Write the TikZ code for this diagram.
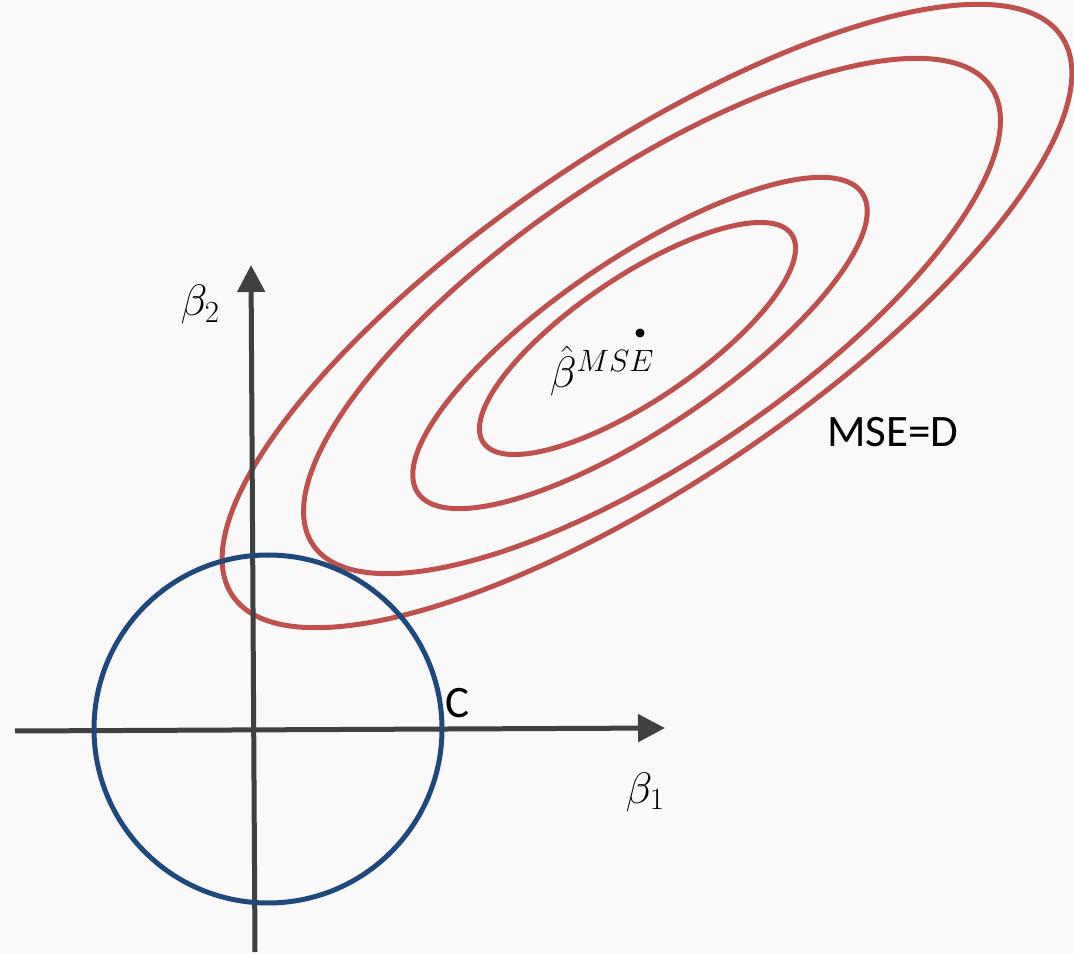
\documentclass[tikz,border=0pt]{standalone}
\usepackage{fix-cm}
\usepackage{fontspec}
\setmainfont{Carlito}
\usetikzlibrary{arrows.meta}
\definecolor{bg}{RGB}{249,249,249}
\definecolor{msered}{RGB}{192,80,77}
\definecolor{circblue}{RGB}{31,73,125}
\definecolor{axisgray}{RGB}{64,64,64}
\tikzset{
  axisline/.style={draw=axisgray, line width=5pt, -{Triangle[length=27pt,width=27pt]}},
  contour/.style={draw=msered, line width=5pt},
  budget/.style={draw=circblue, line width=5pt},
  mathlabel/.style={inner sep=0pt, font=\fontsize{44}{50}\selectfont},
  txtlabel/.style={inner sep=0pt, font=\fontsize{45}{52}\selectfont}
}
\begin{document}
\begin{tikzpicture}[x=1pt,y=1pt]
\fill[bg] (0,0) rectangle (1074,954);
\useasboundingbox (0,0) rectangle (1074,954);
% contours
\draw[contour, shift={(647,638)}, rotate=34] (0,0) ellipse [x radius=500, y radius=166];
\draw[contour, shift={(652,638)}, rotate=34] (0,0) ellipse [x radius=409, y radius=143];
\draw[contour, shift={(640,611)}, rotate=34] (0,0) ellipse [x radius=268, y radius=85];
\draw[contour, shift={(637.5,615.5)}, rotate=34] (0,0) ellipse [x radius=186, y radius=62];
% axes
\coordinate (xstart) at (15,223);
\coordinate (xend) at (665,226);
\coordinate (ystart) at (255,2);
\coordinate (yend) at (251,689);
\draw[axisline] (xstart) -- (xend);
\draw[axisline] (ystart) -- (yend);
% constraint circle
\coordinate (origin) at (268,225);
\draw[budget] (origin) circle [radius=174];
% estimate point
\fill[black] (640,621) circle [radius=4.5];
\node[mathlabel] (b2) at (200,649) {$\beta_2$};
\node[mathlabel] (b1) at (645,162) {$\beta_1$};
\node[mathlabel] (bhat) at (602,583) {$\hat{\beta}^{MSE}$};
\node[txtlabel] (C) at (457,251) {C};
\node[txtlabel] (mse) at (893,522) {MSE=D};
\end{tikzpicture}
\end{document}
